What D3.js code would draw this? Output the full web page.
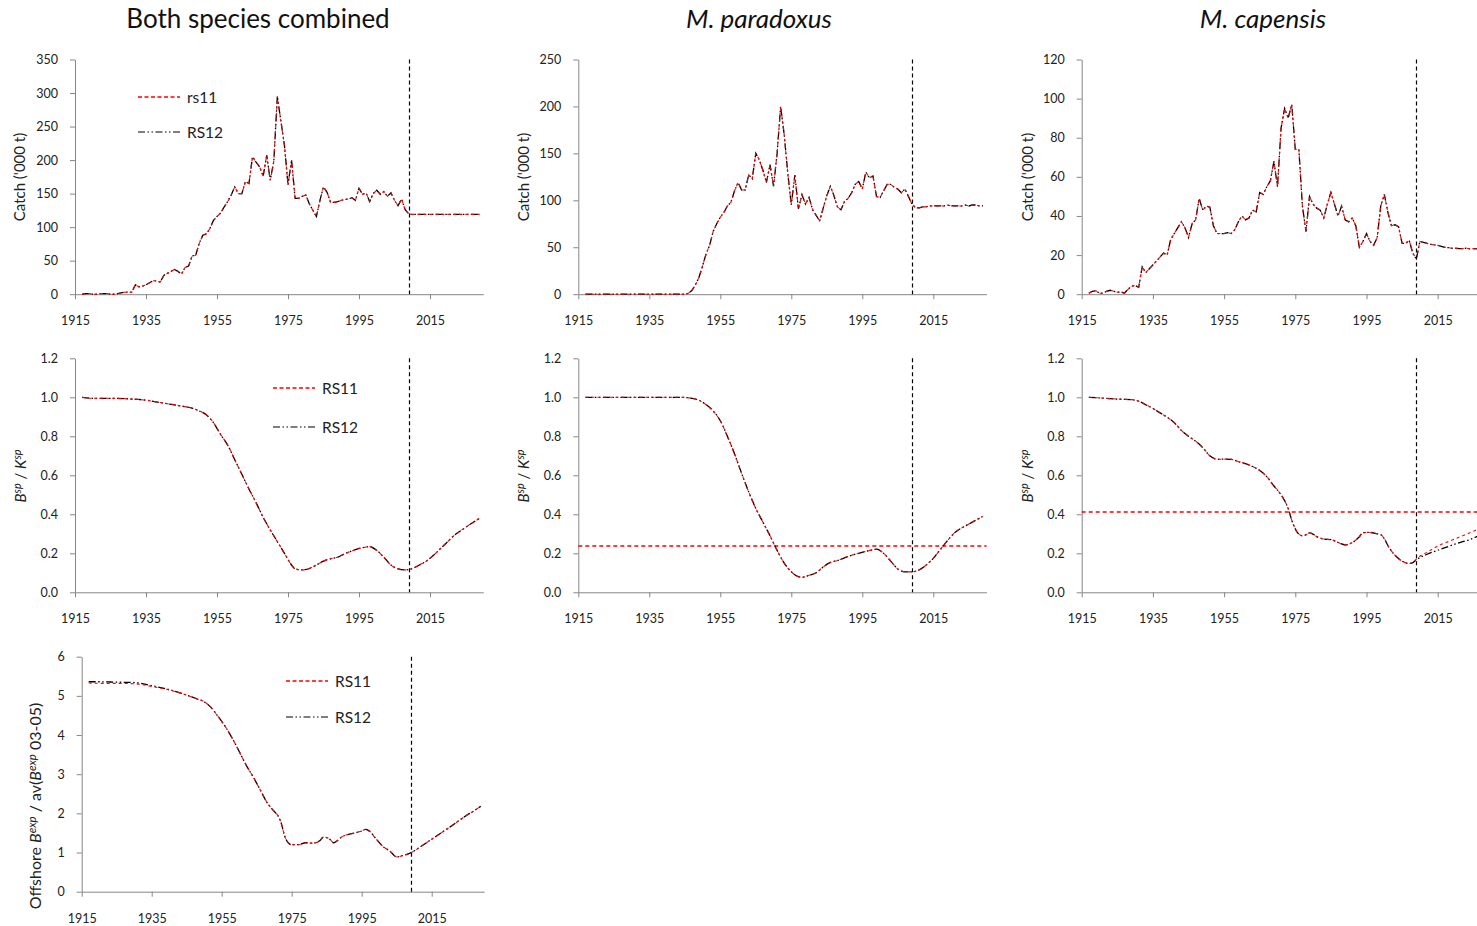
<!DOCTYPE html>
<html>
<head>
<meta charset="utf-8">
<script src="https://cdn.jsdelivr.net/npm/d3@7"></script>
<style>
  body { margin: 0; background: #fff; }
  svg { display: block; font-family: Lato, "Open Sans", sans-serif; }
</style>
</head>
<body>
<svg id="chart" width="1477" height="926"></svg>
<script>
// ---- data ----
const catchYears = d3.range(1917, 2030)   // 1917..2029
const xTicks = [1915, 1935, 1955, 1975, 1995, 2015]

// both species, '000 t
const catchBoth = [
  0, 1, 1, 0, 0, 1, 1, 1, 0, 0,                 // 1917-26
  1, 2, 3, 3, 3, 14, 11, 12, 14, 17,            // 1927-36
  20, 20, 18, 28, 31, 34, 37, 34, 30, 40,       // 1937-46
  42, 57, 58, 76, 88, 90, 98, 110, 116, 121,    // 1947-56
  130, 138, 148, 160, 150, 150, 168, 165, 205, 197,  // 1957-66
  190, 176, 207, 170, 198, 295, 258, 222, 163, 200,  // 1967-76
  143, 143, 146, 148, 135, 125, 116, 140, 160, 152,  // 1977-86
  137, 137, 138, 140, 141, 142, 144, 140, 158, 149,  // 1987-96
  151, 138, 150, 155, 149, 153, 146, 151, 140, 132,  // 1997-2006
  142, 126, 120,                                     // 2007-09
  119, 119, 119, 119, 119, 119, 119, 119, 119, 119,  // 2010-19
  119, 119, 119, 119, 119, 119, 119, 119, 119, 119   // 2020-29
]
const catchPara = [
  0, 0, 0, 0, 0, 0, 0, 0, 0, 0,
  0, 0, 0, 0, 0, 0, 0, 0, 0, 0,
  0, 0, 0, 0, 0, 0, 0, 0, 0, 1,
  4, 10, 18, 30, 43, 52, 67, 75, 82, 87,
  94, 98, 110, 119, 111, 111, 127, 123, 150, 143,
  132, 119, 138, 115, 150, 200, 170, 129, 95, 127,
  91, 106, 96, 103, 90, 84, 78, 92, 105, 115,
  105, 93, 90, 99, 102, 108, 117, 120, 112, 130,
  124, 126, 104, 103, 110, 117, 117, 114, 112, 108,
  112, 104, 96,
  92, 92, 93, 93, 94, 94, 94, 94, 94, 95,
  94, 94, 94, 94, 95, 94, 95, 95, 94, 94
]
const catchCap = [
  0.5, 1.5, 1.7, 0.5, 0.5, 1.5, 2, 1.5, 1, 1.2,
  0.5, 2.5, 4, 4.5, 3.5, 14, 11, 13, 15, 17,
  19, 21, 20, 28, 31, 34, 37, 34, 29, 36,
  38, 49, 43, 45, 44.5, 35, 31, 31, 31, 31.5,
  31, 33, 37, 40, 38, 39, 43, 42, 52, 51,
  55, 58, 68, 55, 85, 95, 90, 97, 74, 74,
  45, 32, 50, 46, 44, 43, 39, 46, 52, 46,
  40, 45, 38, 37, 39, 35, 24, 27, 31, 27,
  25, 29, 45, 51, 42, 35, 35.5, 34.5, 26, 26,
  27.5, 21, 18,
  27, 26.5, 26, 25.5, 25.2, 25, 24.5, 24, 23.8, 23.5,
  23.5, 23.3, 23.3, 23.5, 23.2, 23.3, 23.2, 23.3, 23.2, 23.2
]

// spawning biomass relative to K
const bioBothYears = [1917, 1920, 1925, 1930, 1935, 1940, 1945, 1948, 1950, 1952, 1954, 1956, 1958, 1960,
  1962, 1964, 1966, 1968, 1970, 1972, 1974, 1976, 1977, 1979, 1981, 1983, 1985, 1987, 1989, 1991,
  1993, 1995, 1997, 1998, 2000, 2002, 2004, 2006, 2008, 2010, 2012, 2014, 2016, 2018, 2020, 2022,
  2024, 2026, 2029]
const bioBoth = [1.0, 0.995, 0.995, 0.992, 0.985, 0.97, 0.955, 0.944, 0.93, 0.91, 0.87, 0.81, 0.755, 0.68,
  0.605, 0.53, 0.46, 0.385, 0.32, 0.26, 0.2, 0.14, 0.12, 0.115, 0.122, 0.14, 0.16, 0.172, 0.18, 0.198,
  0.212, 0.225, 0.232, 0.234, 0.215, 0.18, 0.14, 0.12, 0.115, 0.122, 0.14, 0.16, 0.19, 0.225, 0.26, 0.295,
  0.32, 0.345, 0.38]

const bioParaYears = [1917, 1925, 1935, 1944, 1947, 1949, 1951, 1953, 1955, 1957, 1959, 1961, 1963, 1965,
  1967, 1969, 1971, 1973, 1975, 1977, 1978, 1980, 1982, 1984, 1986, 1988, 1990, 1992, 1994, 1996,
  1998, 1999, 2001, 2003, 2005, 2007, 2009, 2011, 2013, 2015, 2017, 2019, 2021, 2023, 2025, 2027, 2029]
const bioPara = [1.0, 1.0, 1.0, 1.0, 0.995, 0.985, 0.962, 0.93, 0.88, 0.8, 0.71, 0.61, 0.515, 0.43,
  0.36, 0.29, 0.215, 0.15, 0.105, 0.08, 0.077, 0.087, 0.1, 0.13, 0.153, 0.163, 0.177, 0.19, 0.2, 0.21,
  0.218, 0.221, 0.2, 0.16, 0.12, 0.105, 0.105, 0.115, 0.14, 0.174, 0.22, 0.265, 0.305, 0.33, 0.35, 0.37, 0.39]
const threshPara = 0.24

const bioCapYears = [1917, 1920, 1923, 1926, 1929, 1931, 1933, 1935, 1937, 1939, 1941, 1943, 1945, 1947,
  1949, 1951, 1953, 1955, 1957, 1959, 1961, 1963, 1965, 1967, 1969, 1971, 1972, 1973, 1974, 1975,
  1976, 1977, 1978, 1979, 1980, 1981, 1983, 1985, 1987, 1989, 1991, 1993, 1994, 1996, 1998, 1999,
  2000, 2001, 2003, 2005, 2007, 2008, 2009, 2010, 2012, 2014, 2016, 2018, 2020, 2022, 2024, 2026, 2029]
const bioCapRS11 = [1.0, 0.997, 0.993, 0.99, 0.988, 0.98, 0.962, 0.943, 0.92, 0.898, 0.87, 0.83, 0.8, 0.775,
  0.742, 0.7, 0.682, 0.683, 0.682, 0.67, 0.66, 0.645, 0.625, 0.593, 0.545, 0.5, 0.47, 0.43, 0.37, 0.325,
  0.298, 0.29, 0.295, 0.305, 0.298, 0.286, 0.273, 0.27, 0.256, 0.243, 0.255, 0.285, 0.306, 0.307, 0.3, 0.296,
  0.275, 0.24, 0.19, 0.16, 0.148, 0.152, 0.17, 0.185, 0.205, 0.227, 0.245, 0.26, 0.275, 0.29, 0.305, 0.32, 0.34]
const bioCapRS12 = [1.0, 0.997, 0.993, 0.99, 0.988, 0.98, 0.962, 0.943, 0.92, 0.898, 0.87, 0.83, 0.8, 0.775,
  0.742, 0.7, 0.682, 0.683, 0.682, 0.67, 0.66, 0.645, 0.625, 0.593, 0.545, 0.5, 0.47, 0.43, 0.37, 0.325,
  0.298, 0.29, 0.295, 0.305, 0.298, 0.286, 0.273, 0.27, 0.256, 0.243, 0.255, 0.285, 0.306, 0.307, 0.3, 0.296,
  0.275, 0.24, 0.19, 0.16, 0.148, 0.152, 0.168, 0.178, 0.195, 0.209, 0.222, 0.235, 0.248, 0.26, 0.27, 0.286, 0.3]
const threshCap = 0.41

// offshore exploitable biomass relative to 2003-05 average
const offYears = [1917, 1920, 1925, 1930, 1935, 1940, 1944, 1948, 1950, 1952, 1954, 1956, 1958, 1960,
  1962, 1964, 1966, 1968, 1970, 1971, 1972, 1973, 1974, 1975, 1977, 1979, 1981, 1983, 1984, 1985,
  1986, 1987, 1988, 1989, 1991, 1993, 1995, 1996, 1997, 1999, 2001, 2003, 2005, 2007, 2009, 2011,
  2013, 2015, 2017, 2019, 2021, 2023, 2025, 2027, 2029]
const offRS11 = [5.33, 5.32, 5.32, 5.31, 5.24, 5.15, 5.05, 4.92, 4.85, 4.7, 4.47, 4.22, 3.92, 3.58,
  3.23, 2.93, 2.6, 2.27, 2.05, 1.95, 1.75, 1.42, 1.25, 1.2, 1.2, 1.25, 1.24, 1.3, 1.39, 1.38,
  1.33, 1.25, 1.3, 1.38, 1.46, 1.5, 1.55, 1.59, 1.56, 1.36, 1.16, 1.04, 0.89, 0.93, 0.99, 1.1,
  1.22, 1.34, 1.46, 1.58, 1.7, 1.83, 1.95, 2.06, 2.18]
const offRS12 = [5.36, 5.36, 5.35, 5.34, 5.26, 5.16, 5.05, 4.92, 4.85, 4.7, 4.47, 4.22, 3.92, 3.58,
  3.23, 2.93, 2.6, 2.27, 2.05, 1.95, 1.75, 1.42, 1.25, 1.2, 1.2, 1.25, 1.24, 1.3, 1.39, 1.38,
  1.33, 1.25, 1.3, 1.38, 1.46, 1.5, 1.55, 1.59, 1.56, 1.36, 1.16, 1.04, 0.89, 0.93, 0.99, 1.1,
  1.22, 1.34, 1.46, 1.58, 1.7, 1.83, 1.95, 2.06, 2.18]

const lastAssessYear = 2009

// ---- drawing ----
var svg = d3.select('#chart')
var axisGrey = '#868686'
var red = '#ff0000'
var dashRed = '3,3'
var dashBlack = '7,2.5,1.5,2.5,1.5,2.5'

function drawPanel(p) {
  var x = d3.scaleLinear().domain([1915, 2030]).range([p.left, p.left + 115 * p.ppy])
  var y = d3.scaleLinear().domain([0, p.yMax]).range([p.bottom, p.top])
  var g = svg.append('g')

  var ya = g.append('g').attr('transform', `translate(${p.left},0)`)
    .call(d3.axisLeft(y)
      .tickValues(d3.range(0, p.yMax + p.yStep / 2, p.yStep))
      .tickSize(5).tickSizeOuter(0).tickPadding(12).tickFormat(p.fmt))
  var xa = g.append('g').attr('transform', `translate(0,${p.bottom})`)
    .call(d3.axisBottom(x).tickValues(xTicks)
      .tickSize(5).tickSizeOuter(0).tickPadding(17).tickFormat(d3.format('d')))
  ;[ya, xa].forEach(a => {
    a.selectAll('path,line').attr('stroke', axisGrey).attr('stroke-width', 1)
    a.selectAll('text').attr('fill', '#222').attr('font-size', 12.5)
      .attr('font-family', 'Lato, "Open Sans", sans-serif')
  })

  // threshold line
  if (p.hline != null) {
    var hy = Math.round(y(p.hline))
    g.append('line')
      .attr('x1', x.range()[0]).attr('x2', x.range()[1])
      .attr('y1', hy).attr('y2', hy)
      .attr('stroke', red).attr('stroke-width', 1.5).attr('stroke-dasharray', '4,3')
  }

  // series: RS12 black underneath, RS11 red on top
  var line = d3.line().x(d => x(d[0])).y(d => y(d[1]))
  if (p.smooth) line.curve(d3.curveMonotoneX)
  g.append('path').datum(d3.zip(p.years, p.rs12))
    .attr('d', line).attr('fill', 'none')
    .attr('stroke', '#000').attr('stroke-width', 1.3).attr('stroke-dasharray', dashBlack)
  g.append('path').datum(d3.zip(p.years, p.rs11))
    .attr('d', line).attr('fill', 'none')
    .attr('stroke', red).attr('stroke-width', 1.1).attr('stroke-dasharray', dashRed)

  // last assessment year
  var vx = Math.round(x(lastAssessYear)) + 0.5
  g.append('line')
    .attr('x1', vx).attr('x2', vx)
    .attr('y1', p.top).attr('y2', p.bottom)
    .attr('stroke', '#000').attr('stroke-width', 1.2).attr('stroke-dasharray', '4,3')

  // y label (rotated)
  var t = g.append('text')
    .attr('transform', `translate(${p.labelX},${p.labelY}) rotate(-90)`)
    .attr('text-anchor', 'middle').attr('font-size', p.labelSize || 15).attr('fill', '#222')
  var shift = 0
  p.label.forEach(s => {
    var ts = t.append('tspan').text(s.t)
    if (s.it) ts.attr('font-style', 'italic')
    if (s.sup) {
      ts.attr('font-size', '0.72em').attr('dy', -5 - shift)
      shift = -5
    } else if (shift) {
      ts.attr('dy', -shift)
      shift = 0
    }
  })

  // legend
  if (p.legend) {
    var L = p.legend
    var items = [
      { y: L.y1, text: L.t1, color: red, dash: '4,2.5', w: 1.5 },
      { y: L.y2, text: L.t2, color: '#000', dash: dashBlack, w: 1.2 }
    ]
    items.forEach(it => {
      g.append('line')
        .attr('x1', L.x).attr('x2', L.x + L.len)
        .attr('y1', it.y).attr('y2', it.y)
        .attr('stroke', it.color).attr('stroke-width', it.w).attr('stroke-dasharray', it.dash)
      g.append('text').attr('x', L.x + L.len + 7).attr('y', it.y + 5.5)
        .attr('font-size', 15.5).attr('fill', '#222').text(it.text)
    })
  }
}

var catchLabel = [{ t: "Catch ('000 t)" }]
var bkLabel = [
  { t: 'B', it: true }, { t: 'sp', it: true, sup: true },
  { t: ' / ' }, { t: 'K', it: true }, { t: 'sp', it: true, sup: true }
]
var offLabel = [
  { t: 'Offshore ' }, { t: 'B', it: true }, { t: 'exp', it: true, sup: true },
  { t: ' / av(' }, { t: 'B', it: true }, { t: 'exp', it: true, sup: true }, { t: ' 03-05)' }
]

var fmtInt = d3.format('d')
var fmt1 = d3.format('.1f')
var cols = [75, 578.3, 1081.7]
var labelXs = [25, 529, 1033]

// row 1: catches
drawPanel({ left: cols[0], ppy: 3.55, top: 59.5, bottom: 294.2, yMax: 350, yStep: 50, fmt: fmtInt,
  years: catchYears, rs11: catchBoth, rs12: catchBoth, label: catchLabel, labelX: labelXs[0], labelY: 177,
  legend: { x: 138, len: 42, y1: 97, y2: 132, t1: 'rs11', t2: 'RS12' } })
drawPanel({ left: cols[1], ppy: 3.55, top: 59.5, bottom: 294.2, yMax: 250, yStep: 50, fmt: fmtInt,
  years: catchYears, rs11: catchPara, rs12: catchPara, label: catchLabel, labelX: labelXs[1], labelY: 177 })
drawPanel({ left: cols[2], ppy: 3.56, top: 59.5, bottom: 294.2, yMax: 120, yStep: 20, fmt: fmtInt,
  years: catchYears, rs11: catchCap, rs12: catchCap, label: catchLabel, labelX: labelXs[2], labelY: 177 })

// row 2: spawning biomass / K
drawPanel({ left: cols[0], ppy: 3.55, top: 358.3, bottom: 592.3, yMax: 1.2, yStep: 0.2, fmt: fmt1, smooth: true,
  years: bioBothYears, rs11: bioBoth, rs12: bioBoth, label: bkLabel, labelX: labelXs[0] + 1, labelY: 476,
  legend: { x: 273, len: 42, y1: 388, y2: 427, t1: 'RS11', t2: 'RS12' } })
drawPanel({ left: cols[1], ppy: 3.55, top: 358.3, bottom: 592.3, yMax: 1.2, yStep: 0.2, fmt: fmt1, smooth: true,
  years: bioParaYears, rs11: bioPara, rs12: bioPara, hline: threshPara,
  label: bkLabel, labelX: labelXs[1], labelY: 476 })
drawPanel({ left: cols[2], ppy: 3.56, top: 358.3, bottom: 592.3, yMax: 1.2, yStep: 0.2, fmt: fmt1, smooth: true,
  years: bioCapYears, rs11: bioCapRS11, rs12: bioCapRS12, hline: threshCap,
  label: bkLabel, labelX: labelXs[2], labelY: 476 })

// row 3: offshore exploitable biomass
drawPanel({ left: 81.7, ppy: 3.5, top: 656.7, bottom: 891.7, yMax: 6, yStep: 1, fmt: fmtInt, smooth: true,
  years: offYears, rs11: offRS11, rs12: offRS12, label: offLabel, labelX: 41, labelY: 806, labelSize: 16,
  legend: { x: 286, len: 42, y1: 681, y2: 717, t1: 'RS11', t2: 'RS12' } })

// titles
var titles = [
  { t: 'Both species combined', x: 258, it: false },
  { t: 'M. paradoxus', x: 759, it: true },
  { t: 'M. capensis', x: 1263, it: true }
]
svg.selectAll('text.title').data(titles).join('text')
  .attr('class', 'title')
  .attr('x', d => d.x).attr('y', 28)
  .attr('text-anchor', 'middle').attr('font-size', 26).attr('fill', '#111')
  .attr('font-style', d => d.it ? 'italic' : 'normal')
  .text(d => d.t)
</script>
</body>
</html>
